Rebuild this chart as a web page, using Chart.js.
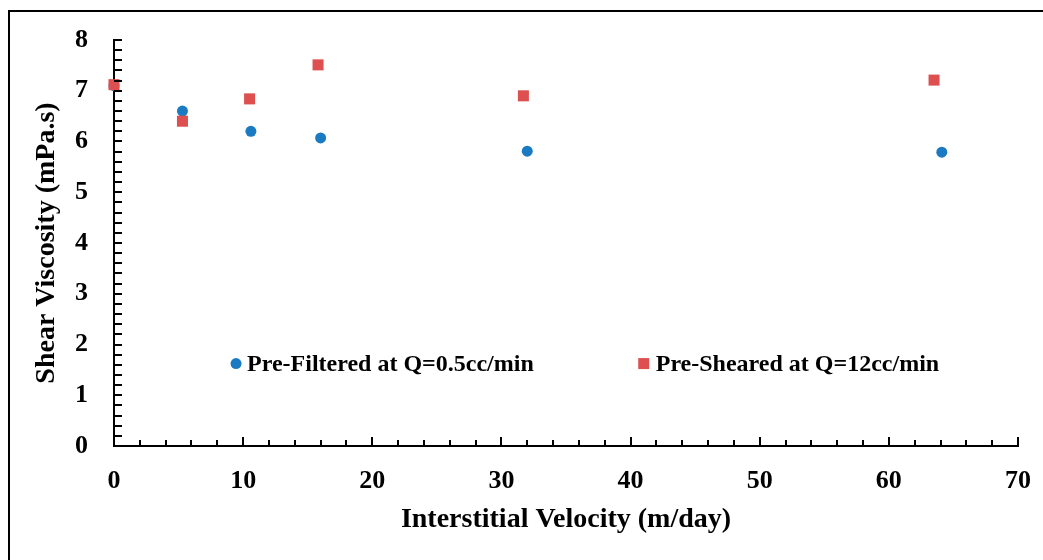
<!DOCTYPE html>
<html>
<head>
<meta charset="utf-8">
<script src="https://cdn.jsdelivr.net/npm/chart.js@4"></script>
<style>
  html, body { margin: 0; padding: 0; background: #fff; }
  #wrap { width: 1043px; height: 560px; position: relative; }
</style>
</head>
<body>
<div id="wrap"><canvas id="chart" width="1043" height="560"></canvas></div>
<script>
// values
const filteredX = [0, 5.3, 10.6, 16.0, 32.0, 64.1];
const filteredY = [7.1, 6.6, 6.2, 6.07, 5.81, 5.79];
const shearedX = [0, 5.3, 10.5, 15.8, 31.7, 63.5];
const shearedY = [7.12, 6.4, 6.84, 7.51, 6.9, 7.21];

const seriesLabels = ['Pre-Filtered at Q=0.5cc/min', 'Pre-Sheared at Q=12cc/min'];
const xTitle = 'Interstitial Velocity (m/day)';
const yTitle = 'Shear Viscosity (mPa.s)';

const blue = '#1a7bc2';
const red = '#de4f4f';
const serif = '"Liberation Serif", "Times New Roman", serif';

const toPoints = (xs, ys) => xs.map((x, i) => ({ x: x, y: ys[i] }));

// frame, inward ticks and in-plot legend
const decorations = {
    id: 'decorations',
    beforeDraw(chart) {
        const ctx = chart.ctx;
        ctx.save();
        ctx.strokeStyle = '#000';
        ctx.lineWidth = 2;
        ctx.beginPath();
        ctx.moveTo(9, 560);
        ctx.lineTo(9, 11);
        ctx.lineTo(1043, 11);
        ctx.stroke();
        ctx.restore();
    },
    afterDatasetsDraw(chart) {
        const ctx = chart.ctx;
        const xs = chart.scales.x;
        const ys = chart.scales.y;
        const area = chart.chartArea;
        ctx.save();
        ctx.strokeStyle = '#000';
        ctx.lineWidth = 2;
        ctx.beginPath();
        for (let v = 0; v <= 8.001; v += 0.2) {
            const py = Math.round(ys.getPixelForValue(v));
            ctx.moveTo(area.left, py);
            ctx.lineTo(area.left + 8, py);
        }
        for (let v = 0; v <= 70.001; v += 2) {
            const px = Math.round(xs.getPixelForValue(v));
            const major = Math.abs(v / 10 - Math.round(v / 10)) < 1e-6;
            ctx.moveTo(px, area.bottom);
            ctx.lineTo(px, area.bottom - (major ? 9 : 6));
        }
        ctx.stroke();

        // legend
        const ly = area.top + (area.bottom - area.top) * 0.797;
        const lx = [area.left + (area.right - area.left) * 0.135, area.left + (area.right - area.left) * 0.586];
        ctx.font = 'bold 24px ' + serif;
        ctx.textBaseline = 'middle';
        ctx.fillStyle = blue;
        ctx.beginPath();
        ctx.arc(lx[0], ly, 5.5, 0, Math.PI * 2);
        ctx.fill();
        ctx.fillStyle = red;
        ctx.fillRect(lx[1] - 5.5, ly - 5.5, 11, 11);
        ctx.fillStyle = '#000';
        ctx.fillText(seriesLabels[0], lx[0] + 11, ly + 1);
        ctx.fillText(seriesLabels[1], lx[1] + 12, ly + 1);
        ctx.restore();
    }
};

new Chart(document.getElementById('chart'), {
    type: 'scatter',
    data: {
        datasets: [
            {
                label: seriesLabels[0],
                data: toPoints(filteredX, filteredY),
                order: 1,
                pointStyle: 'circle',
                pointRadius: 5.5,
                backgroundColor: blue,
                borderColor: blue,
                borderWidth: 0,
                clip: false
            },
            {
                label: seriesLabels[1],
                data: toPoints(shearedX, shearedY),
                order: 0,
                pointStyle: 'rect',
                pointRadius: 7.8,
                backgroundColor: red,
                borderColor: red,
                borderWidth: 0,
                clip: false
            }
        ]
    },
    options: {
        responsive: false,
        animation: false,
        layout: { padding: { left: 8, top: 40, right: 20, bottom: 0 } },
        plugins: {
            legend: { display: false },
            tooltip: { enabled: false }
        },
        scales: {
            x: {
                type: 'linear',
                min: 0,
                max: 70,
                grid: { display: false },
                border: { display: true, color: '#000', width: 2 },
                ticks: {
                    stepSize: 10,
                    color: '#000',
                    padding: 12,
                    font: { family: serif, size: 26, weight: 'bold' }
                },
                title: {
                    display: true,
                    text: xTitle,
                    color: '#000',
                    padding: { top: 0, bottom: 23 },
                    font: { family: serif, size: 28, weight: 'bold' }
                },
                afterFit(scale) { scale.height = 114; }
            },
            y: {
                type: 'linear',
                min: 0,
                max: 8,
                grid: { display: false },
                border: { display: true, color: '#000', width: 2 },
                ticks: {
                    stepSize: 1,
                    color: '#000',
                    padding: 18,
                    font: { family: serif, size: 26, weight: 'bold' }
                },
                title: {
                    display: true,
                    text: yTitle,
                    color: '#000',
                    padding: { top: 22, bottom: 0 },
                    font: { family: serif, size: 28, weight: 'bold' }
                },
                afterFit(scale) { scale.width = 106; }
            }
        }
    },
    plugins: [decorations]
});
</script>
</body>
</html>
